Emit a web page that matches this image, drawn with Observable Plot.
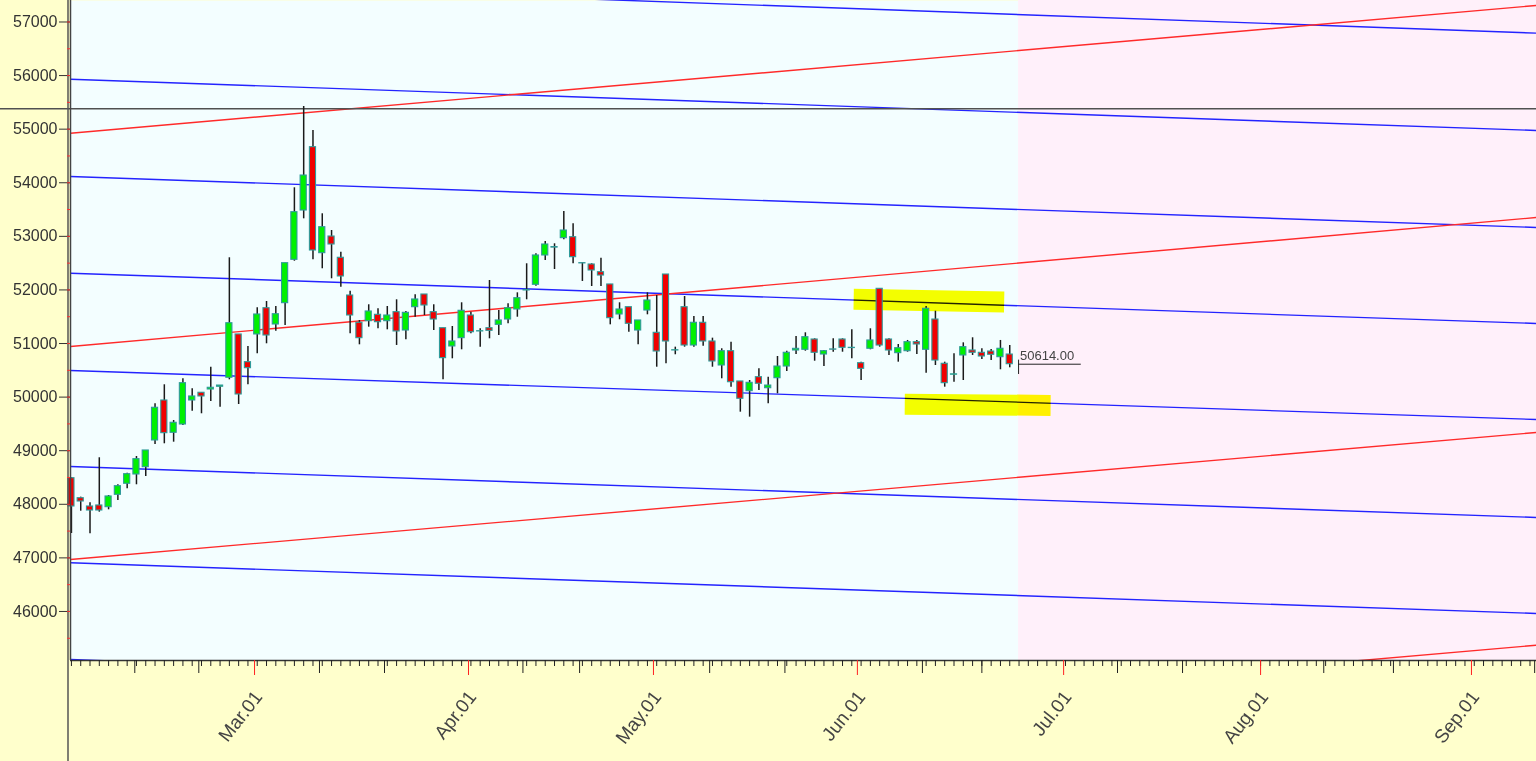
<!DOCTYPE html>
<html><head><meta charset="utf-8">
<script src="https://cdn.jsdelivr.net/npm/d3@7"></script>
<script src="https://cdn.jsdelivr.net/npm/@observablehq/plot@0.6"></script>
<style>html,body{margin:0;padding:0;background:#FFFFCC;overflow:hidden}</style>
</head><body><div id="chart"></div>
<script>
// Daily candles (trading-day index 0..101)
const open  = [48487,48114,47959,47978,47946,48177,48383,48556,48692,49191,49937,49334,49489,49937,50081,50142,50193,50361,51169,50652,51169,51659,51355,51753,52562,53482,54664,52686,52997,52600,51896,51387,51417,51536,51417,51585,51243,51678,51915,51585,51286,50945,51100,51523,51225,51286,51349,51448,51635,52000,52096,52643,52800,52966,52984,52500,52475,52331,52102,51542,51678,51243,51616,51200,52288,50870,51678,50963,51387,51038,50590,50857,50292,50111,50372,50166,50353,50571,50870,50883,51075,50795,50890,51075,50915,50633,50902,52021,51075,50820,50857,51025,50883,51448,50622,50418,50777,50870,50827,50851,50745,50795];
const high  = [48500,48133,48028,48868,48164,48363,48580,48892,49004,49875,50230,49564,50342,50155,50081,50558,50217,52600,51169,50945,51667,51784,51691,52499,53906,55423,54975,53421,53109,52704,51977,51430,51723,51648,51691,51816,51598,51909,51915,51723,51286,51318,51760,51585,51275,52176,51616,51741,51946,52488,52674,52904,52861,53464,53234,52505,52488,52592,52102,51760,51678,51430,51946,51896,52288,50932,51878,51504,51504,51100,50902,51025,50292,50310,50528,50372,50758,50857,51131,51200,51088,50870,51088,51088,51256,50652,51275,52021,51088,50982,51057,51057,51691,51603,50652,50808,51013,51107,50902,50889,51057,50963];
const low   = [47455,47871,47450,47853,47897,48071,48289,48364,48519,49116,49129,49159,49471,49737,49689,49918,49812,50323,49862,50230,50808,50995,51230,51336,52536,53327,52562,52395,52208,52051,51181,50976,51305,51275,51256,50964,51070,51491,51523,51243,50323,50715,50883,51181,50932,51088,51150,51368,51491,51816,52071,52549,52381,52935,52488,52158,52064,52064,51349,51443,51211,50976,51536,50558,50621,50790,50932,50932,50950,50558,50342,50185,49719,49626,50124,49875,50062,50478,50795,50857,50670,50571,50838,50838,50715,50310,50883,50932,50777,50652,50838,50795,50446,50590,50185,50278,50310,50777,50702,50683,50510,50547];
const close = [47959,48052,47884,47884,48146,48338,48562,48842,49004,49801,49327,49521,50260,50012,50012,50174,50216,51379,50049,50540,51542,51150,51547,52499,53451,54135,52736,53171,52848,52251,51523,51100,51598,51398,51523,51225,51573,51822,51710,51448,50727,51038,51611,51211,51230,51237,51430,51659,51846,51990,52643,52848,52790,53109,52611,52495,52363,52269,51473,51635,51368,51430,51803,50851,51038,50875,50963,51387,51038,50665,50857,50278,49969,50267,50249,50216,50571,50827,50901,51118,50827,50857,50885,50920,50920,50528,51057,50963,50870,50913,51025,50982,51648,50683,50260,50425,50932,50827,50758,50790,50902,50614];

// Axis ticks (trading-day index) and labels
const monthTicks  = [19.71, 42.74, 62.65, 84.6, 106.8, 128.0, 150.7];
const monthLabels = ["Mar.01","Apr.01","May.01","Jun.01","Jul.01","Aug.01","Sep.01"];
const longTicks   = [6.82,13.71,26.7,33.7,48.6,54.7,68.7,76.8,91.6,98.0,112.6,119.6,134.8,142.3,157.5];
const yTicks      = [46000,47000,48000,49000,50000,51000,52000,53000,54000,55000,56000,57000];
const yMinorTicks = [45500,46000,46500,47000,47500,48000,48500,49000,49500,50000,50500,51000,51500,52000,52500,53000,53500,54000,54500,55000,55500,56000,56500,57000];

// Fan lines: value at left edge and right edge of the chart
const blueLeft  = [57775,55932,54117,52312,50497,48705,46908,45103];
const blueRight = [56792,54975,53165,51374,49582,47754,45962,44158];
const redLeft   = [54925,50945,46970,42992];
const redRight  = [57308,53352,49340,45371];

// Horizontal level and yellow highlights
const levelLine = 55380;
const bandStart = [84.2, 89.7];
const bandEnd   = [100.4, 105.4];
const bandFrom  = [51825, 49868];
const bandTo    = [51776, 49845];

// Last price marker
const lastPrice = 50614;
const lastTick  = [50422, 50690];
const futureStart = 101.95;

const xDomain = [-0.1, 157.7];
const yDomain = [45085, 57401];
const H = 761, MB = 101, MT = 0;
const yBottomExt = yDomain[0] - (yDomain[1]-yDomain[0]) * MB / (H - MB - MT);

const candles = open.map((o,i)=>({i, o, h: high[i], l: low[i], c: close[i]}));
const up = candles.filter(d=>d.c>=d.o), down = candles.filter(d=>d.c<d.o);
const labelMap = new Map(monthTicks.map((v,i)=>[v, monthLabels[i]]));
const blueIdx = d3.range(blueLeft.length), redIdx = d3.range(redLeft.length), bandIdx = d3.range(bandStart.length);

const chart = Plot.plot({
  width: 1536, height: H,
  marginLeft: 70, marginRight: 0, marginTop: MT, marginBottom: MB,
  x: {domain: xDomain, label: null},
  y: {domain: yDomain, label: null},
  style: {background: "#FFFFCC", fontFamily: "'Liberation Sans', Arial, sans-serif", overflow: "visible"},
  marks: [
    Plot.frame({fill: "#F3FEFF", stroke: "none"}),
    Plot.rect([futureStart], {x1: d=>d, x2: ()=>xDomain[1], fill: "#FFF0FA"}),
    Plot.link(blueIdx, {x1: ()=>xDomain[0], x2: ()=>xDomain[1], y1: i=>blueLeft[i], y2: i=>blueRight[i], stroke: "#2323ff", strokeWidth: 1.4, clip: true}),
    Plot.link(redIdx, {x1: ()=>xDomain[0], x2: ()=>xDomain[1], y1: i=>redLeft[i], y2: i=>redRight[i], stroke: "#ff2a2a", strokeWidth: 1.4, clip: true}),
    Plot.link(bandIdx, {x1: i=>bandStart[i], x2: i=>bandEnd[i], y1: i=>bandFrom[i], y2: i=>bandTo[i], stroke: "#ffff00", strokeWidth: 21, strokeLinecap: "butt", mixBlendMode: "multiply"}),
    Plot.ruleY([levelLine], {x1: -7.7, x2: ()=>xDomain[1], stroke: "#505050", strokeWidth: 1.5, clip: false}),
    Plot.ruleX(candles, {x: "i", y1: "l", y2: "h", stroke: "#1a1a1a", strokeWidth: 1.5}),
    Plot.rect(up, {x1: d=>d.i-0.33, x2: d=>d.i+0.33, y1: "o", y2: "c", fill: "#00f000", stroke: "#2f9a9a", strokeWidth: 1.1}),
    Plot.rect(down, {x1: d=>d.i-0.33, x2: d=>d.i+0.33, y1: "o", y2: "c", fill: "#f00000", stroke: "#2f9a9a", strokeWidth: 1.1}),
    Plot.ruleY([lastPrice], {x1: futureStart, x2: 108.7, stroke: "#222", strokeWidth: 1}),
    Plot.ruleX([futureStart], {y1: lastTick[0], y2: lastTick[1], stroke: "#222", strokeWidth: 1}),
    Plot.text([lastPrice], {x: futureStart + 0.15, y: d=>d, text: d=>d.toFixed(2), dy: -8, textAnchor: "start", fontSize: 13, fill: "#444"}),
    // frame lines
    Plot.ruleY([yDomain[0]], {stroke: "#333", strokeWidth: 1.5}),
    Plot.ruleX([xDomain[0]], {stroke: "#444", strokeWidth: 1.5}),
    Plot.ruleX([xDomain[0]], {y1: yBottomExt, y2: yDomain[1], dx: -2.5, stroke: "#555", strokeWidth: 1.5, clip: false}),
    // axes
    Plot.axisY(yTicks, {tickSize: 11, tickPadding: 2, fontSize: 16, tickFormat: d=>String(d), color: "#333", label: null}),
    Plot.axisY(yMinorTicks, {tickSize: 3, tickFormat: ()=>"", color: "#ff3030", label: null}),
    Plot.axisX(d3.range(0, 158), {tickSize: 6, tickFormat: ()=>"", color: "#222", label: null}),
    Plot.axisX(longTicks, {tickSize: 13, tickFormat: ()=>"", color: "#222", label: null}),
    Plot.axisX(monthTicks, {tickSize: 15, tickFormat: ()=>"", color: "#ff2020", label: null}),
    Plot.axisX(monthTicks, {tickSize: 0, tickPadding: 33, dx: 4, tickRotate: -52, fontSize: 19, tickFormat: d=>labelMap.get(d), color: "#444", label: null})
  ]
});
document.getElementById("chart").appendChild(chart);
</script>
</body></html>
